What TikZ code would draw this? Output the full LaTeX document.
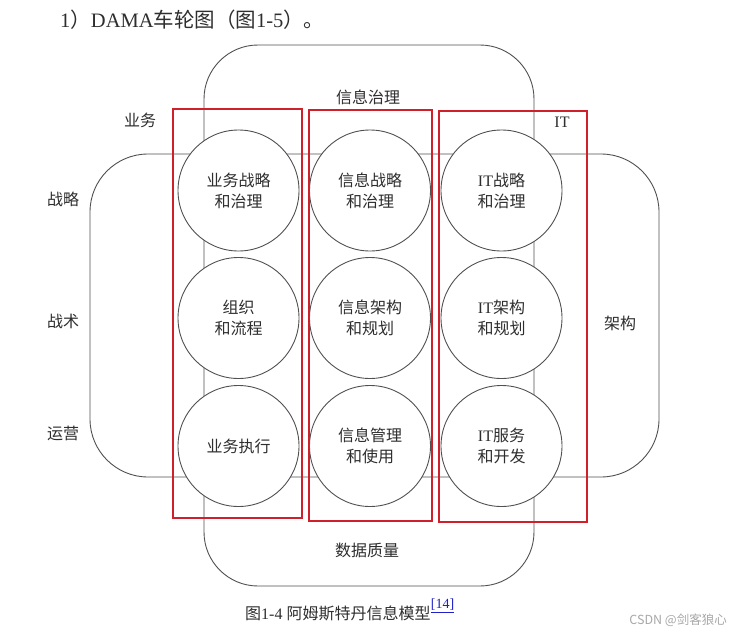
\documentclass[tikz,border=0pt]{standalone}
\usepackage{fontspec}
\setmainfont{Liberation Serif}
\newfontfamily\cjk{Noto Sans CJK SC}
\usepackage{tikz}
\definecolor{ink}{HTML}{2E2E2E}
\definecolor{edge}{HTML}{505050}
\definecolor{redbox}{HTML}{D0202B}
\definecolor{faint}{HTML}{A8A8A8}
\definecolor{refblue}{HTML}{2020C8}

\tikzset{
  wheel/.style={circle, draw=edge, line width=0.9pt, fill=white, minimum size=121pt,
    inner sep=0pt, align=center, text=ink, font=\cjk\fontsize{16}{21}\selectfont},
  lbl/.style={text=ink, inner sep=0pt, font=\cjk\fontsize{16}{20}\selectfont},
  ring/.style={draw=edge, line width=0.9pt},
  column/.style={draw=redbox, line width=1.6pt}
}

\begin{document}
\begin{tikzpicture}[x=1pt, y=-1pt]
  \useasboundingbox[fill=white] (0,0) rectangle (739,634);

  % heading
  \node[anchor=west, text=ink, inner sep=0pt, font=\fontsize{20.5}{24}\selectfont] (title) at (60,20)
    {1{\cjk ）}DAMA{\cjk 车轮图（图}1-5{\cjk ）。}};

  % the two rounded bands
  \draw[ring, rounded corners=54pt] (204,45) rectangle (534,586);
  \draw[ring, rounded corners=58pt] (90,154) rectangle (659,477);

  % wheels
  \node[wheel] (bizstrat) at (238.5,190.5) {业务战略\\和治理};
  \node[wheel] (infostrat) at (370,190.5) {信息战略\\和治理};
  \node[wheel] (itstrat) at (501.5,190.5) {{\rmfamily IT}战略\\和治理};
  \node[wheel] (bizorg) at (238.5,318) {组织\\和流程};
  \node[wheel] (infoarch) at (370,318) {信息架构\\和规划};
  \node[wheel] (itarch) at (501.5,318) {{\rmfamily IT}架构\\和规划};
  \node[wheel] (bizexec) at (238.5,446) {业务执行};
  \node[wheel] (infouse) at (370,446) {信息管理\\和使用};
  \node[wheel] (itdev) at (501.5,446) {{\rmfamily IT}服务\\和开发};

  % red column frames
  \draw[column] (173,109) rectangle (302,518);
  \draw[column] (309,110) rectangle (432,521);
  \draw[column] (439,111) rectangle (587,522);

  % band labels
  \node[lbl] (govern) at (368,97) {信息治理};
  \node[lbl] (quality) at (367,550) {数据质量};
  \node[lbl] (business) at (140,120) {业务};
  \node[lbl, font=\rmfamily\fontsize{16}{20}\selectfont] (itside) at (562,122) {IT};
  \node[lbl] (strategic) at (63,199) {战略};
  \node[lbl] (tactical) at (63,321) {战术};
  \node[lbl] (operational) at (63,433) {运营};
  \node[lbl] (arch) at (620,323) {架构};

  % caption and mark
  \node[anchor=west, text=ink, inner sep=0pt, font=\fontsize{16}{20}\selectfont] (caption) at (245,613)
    {{\cjk 图}1-4 {\cjk 阿姆斯特丹信息模型}};
  \node[anchor=west, text=refblue, inner sep=0pt, font=\fontsize{14}{16}\selectfont] (cite) at (caption.east) [yshift=7pt]
    {\underline{[14]}};
  \node[anchor=east, text=faint, inner sep=0pt, font=\cjk\fontsize{12.5}{14}\selectfont] (stamp) at (727,620)
    {CSDN @剑客狼心};
\end{tikzpicture}
\end{document}
